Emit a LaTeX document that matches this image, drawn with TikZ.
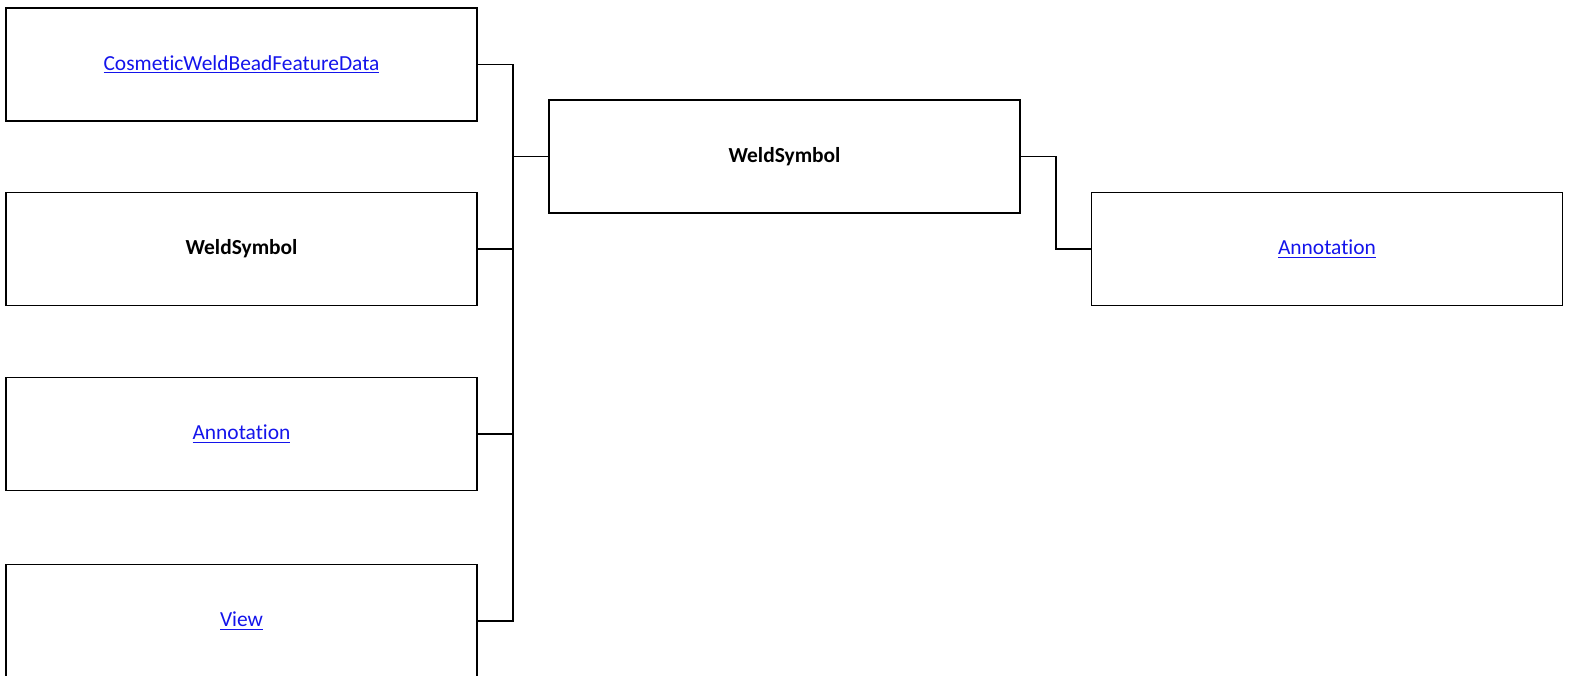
\documentclass[tikz,border=0pt]{standalone}
\usepackage{fontspec}
\setmainfont[Ligatures={NoCommon,NoRequired,NoContextual}]{Carlito}
\usetikzlibrary{positioning}
\usepackage{xcolor}
\definecolor{linkblue}{RGB}{20, 20, 235}

\tikzset{
    classbox/.style={draw, line width=0.85pt, minimum width=471*0.02cm, minimum height=113*0.02cm, inner sep=0pt, font=\fontsize{12.2}{14}\selectfont},
    linkbox/.style={classbox, text=linkblue},
    wire/.style={line width=1.1pt}
}
\newcommand{\lnk}[1]{\underline{#1}}

\begin{document}
\begin{tikzpicture}[x=0.02cm, y=-0.02cm]
    \useasboundingbox (0,0) rectangle (1573,676);
    \clip (0,0) rectangle (1573,676);

    % left column
    \node[linkbox] (cwbfd) at (241.5, 64.5) {\lnk{CosmeticWeldBeadFeatureData}};
    \node[classbox] (wsleft) at (241.5, 249) {\textbf{WeldSymbol}};
    \node[linkbox] (annleft) at (241.5, 434) {\lnk{Annotation}};
    \node[linkbox] (view) at (241.5, 621) {\lnk{View}};

    % centre and right
    \node[classbox] (ws) at (784.5, 156.5) {\textbf{WeldSymbol}};
    \node[linkbox] (annright) at (1327, 249) {\lnk{Annotation}};

    \coordinate (bus) at (513, 156.5);
    \coordinate (rbend) at (1056, 156.5);

    \foreach \n in {cwbfd, wsleft, annleft, view} {
        \draw[wire] (\n.east) -| (bus) -- (ws.west);
    }
    \draw[wire] (ws.east) -- (rbend) |- (annright.west);
\end{tikzpicture}
\end{document}
